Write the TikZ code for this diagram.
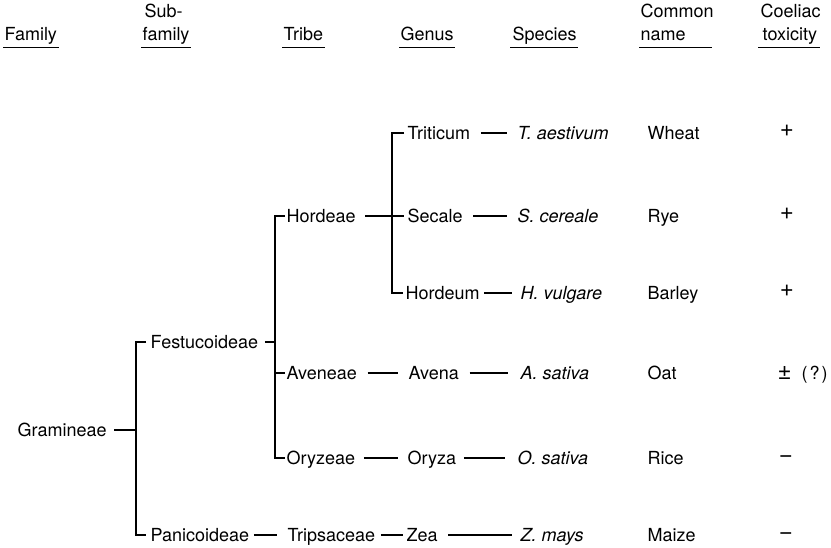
\documentclass[tikz,border=0pt]{standalone}
\usepackage{fontspec}
\setmainfont{TeX Gyre Heros}
\begin{document}
\begin{tikzpicture}[x=1pt,y=-1pt,line width=1.4pt,
  lab/.style={anchor=west,inner sep=0pt,text height=13pt,text depth=0pt,font=\fontsize{18}{20}\selectfont},
  sp/.style={lab,font=\fontsize{18}{20}\selectfont\itshape},
  sign/.style={anchor=base,inner sep=0pt,font=\fontsize{24}{26}\selectfont},
  hd/.style={anchor=base west,inner sep=0pt,text depth=0pt,font=\fontsize{18}{20}\selectfont},
  uline/.style={line width=1.4pt}]
\useasboundingbox (0,0) rectangle (831,548);
% headers
\node[hd] (hfam) at (4,41) {Family};
\node[hd] (hsub1) at (144,18) {Sub-};
\node[hd] (hsub2) at (142,41) {family};
\node[hd] (htri) at (283,41) {Tribe};
\node[hd] (hgen) at (400,41) {Genus};
\node[hd] (hspe) at (512,41) {Species};
\node[hd] (hcom1) at (640,18) {Common};
\node[hd] (hcom2) at (640,41) {name};
\node[hd] (hcoe1) at (760,18) {Coeliac};
\node[hd] (hcoe2) at (762,41) {toxicity};
\draw[uline] ([xshift=-1pt,yshift=-6pt]hfam.south west) -- ([xshift=1pt,yshift=-6pt]hfam.south east);
\draw[uline] ([xshift=-1pt,yshift=-6pt]hsub2.south west) -- ([xshift=1pt,yshift=-6pt]hsub2.south east);
\draw[uline] ([xshift=-1pt,yshift=-6pt]htri.south west) -- ([xshift=1pt,yshift=-6pt]htri.south east);
\draw[uline] ([xshift=-1pt,yshift=-6pt]hgen.south west) -- ([xshift=1pt,yshift=-6pt]hgen.south east);
\draw[uline] ([xshift=-2pt,yshift=-6pt]hspe.south west) -- ([xshift=1pt,yshift=-6pt]hspe.south east);
\draw[uline] ([xshift=-1pt,yshift=-6pt]hcom2.south west) -- ([xshift=-2pt,yshift=-6pt]hcom2.south west -| hcom1.east);
\draw[uline] ([xshift=-4pt,yshift=-6pt]hcoe2.south west) -- ([xshift=2pt,yshift=-6pt]hcoe2.south east);
% bracket columns
\coordinate (b1) at (136,0);
\coordinate (b2) at (275,0);
\coordinate (b3) at (392,0);
% tree nodes
\node[lab] (gram) at (17,430) {Gramineae};
\node[lab] (fest) at (150,342) {Festucoideae};
\node[lab] (pani) at (150,535) {Panicoideae};
\node[lab] (hordeae) at (286,216) {Hordeae};
\node[lab] (aven) at (286,373) {Aveneae};
\node[lab] (oryz) at (286,458) {Oryzeae};
\node[lab] (trips) at (287,535) {Tripsaceae};
\node[lab] (trit) at (407,133) {Triticum};
\node[lab] (sec) at (407,216) {Secale};
\node[lab] (hordeum) at (405,293) {Hordeum};
\node[lab] (avena) at (408,373) {Avena};
\node[lab] (oryza) at (407,458) {Oryza};
\node[lab] (zea) at (406,535) {Zea};
\node[sp] (taes) at (517,133) {T. aestivum};
\node[sp] (scer) at (517,216) {S. cereale};
\node[sp] (hvul) at (520,293) {H. vulgare};
\node[sp] (asat) at (520,373) {A. sativa};
\node[sp] (osat) at (517,458) {O. sativa};
\node[sp] (zmay) at (520,535) {Z. mays};
\node[lab] (cwheat) at (647,133) {Wheat};
\node[lab] (crye) at (647,216) {Rye};
\node[lab] (cbarley) at (647,293) {Barley};
\node[lab] (coat) at (647,373) {Oat};
\node[lab] (crice) at (647,458) {Rice};
\node[lab] (cmaize) at (647,535) {Maize};
\node[sign] (t1) at (787,137) {+};
\node[sign] (t2) at (787,220) {+};
\node[sign] (t3) at (787,297) {+};
\node[lab] (t4) at (777,373) {{\fontsize{24}{26}\selectfont ±}\hspace{10pt}(\kern2pt?\kern2pt)};
\node[sign] (t5) at (786,462) {−};
\node[sign] (t6) at (786,539) {−};
% connectors
\draw ([xshift=7pt]gram.east) -- (gram.east -| b1);
\draw ([xshift=-4pt]fest.west) -- (fest.west -| b1) -- (pani.west -| b1) -- ([xshift=-4pt]pani.west);
\draw ([xshift=6pt]fest.east) -- (fest.east -| b2);
\draw ([xshift=-1pt]hordeae.west) -- (hordeae.west -| b2) -- (oryz.west -| b2) -- ([xshift=-1pt]oryz.west);
\draw (aven.west -| b2) -- ([xshift=-1pt]aven.west);
\draw ([xshift=9pt]hordeae.east) -- ([xshift=-3pt]sec.west);
\draw ([xshift=-3pt]trit.west) -- (trit.west -| b3) -- (hordeum.west -| b3) -- ([xshift=-2pt]hordeum.west);
\draw ([xshift=10pt]trit.east) -- ([xshift=-10pt]taes.west);
\draw ([xshift=10pt]sec.east) -- ([xshift=-10pt]scer.west);
\draw ([xshift=4pt]hordeum.east) -- ([xshift=-8pt]hvul.west);
\draw ([xshift=10pt]aven.east) -- ([xshift=-10pt]avena.west);
\draw ([xshift=10pt]avena.east) -- ([xshift=-12pt]asat.west);
\draw ([xshift=8pt]oryz.east) -- ([xshift=-9pt]oryza.west);
\draw ([xshift=7pt]oryza.east) -- ([xshift=-12pt]osat.west);
\draw ([xshift=4pt]pani.east) -- ([xshift=-10pt]trips.west);
\draw ([xshift=5pt]trips.east) -- ([xshift=-3pt]zea.west);
\draw ([xshift=10pt]zea.east) -- ([xshift=-8pt]zmay.west);
\end{tikzpicture}
\end{document}
